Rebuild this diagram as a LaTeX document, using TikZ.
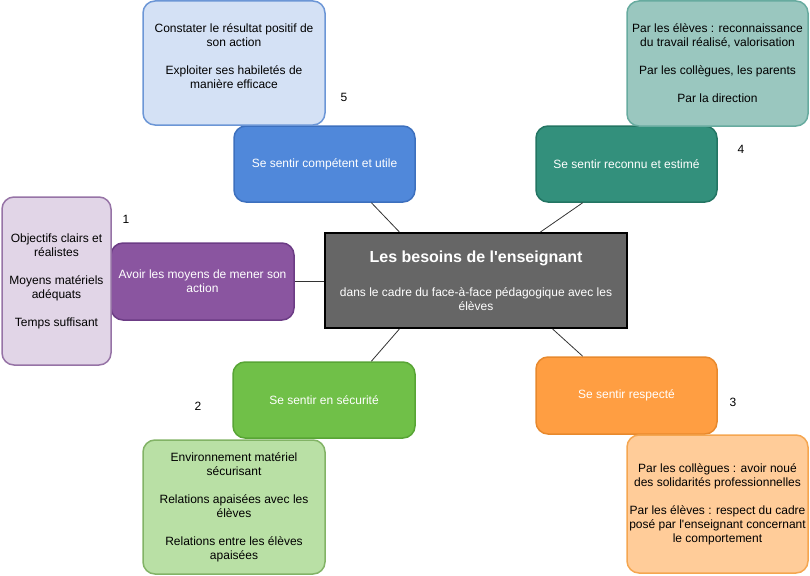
\documentclass[tikz,border=0pt]{standalone}
\usepackage{fontspec}
\setmainfont{Liberation Sans}[Ligatures=TeXOff]
\usetikzlibrary{calc}
\definecolor{bluefill}{HTML}{D4E1F5}
\definecolor{bluedraw}{HTML}{6C96D6}
\definecolor{bluemain}{HTML}{5088DA}
\definecolor{bluemaind}{HTML}{3D70BE}
\definecolor{tealfill}{HTML}{9AC7BF}
\definecolor{tealdraw}{HTML}{67AB9F}
\definecolor{tealmain}{HTML}{33907C}
\definecolor{tealmaind}{HTML}{237563}
\definecolor{purpfill}{HTML}{E1D5E7}
\definecolor{purpdraw}{HTML}{9673A6}
\definecolor{purpmain}{HTML}{8A55A0}
\definecolor{purpmaind}{HTML}{6C3C85}
\definecolor{greenfill}{HTML}{B9E0A5}
\definecolor{greendraw}{HTML}{82B366}
\definecolor{greenmain}{HTML}{70C048}
\definecolor{greenmaind}{HTML}{58A535}
\definecolor{orgfill}{HTML}{FFCC99}
\definecolor{orgdraw}{HTML}{F5A650}
\definecolor{orgmain}{HTML}{FF9E42}
\definecolor{orgmaind}{HTML}{E8892D}
\definecolor{centerfill}{HTML}{666666}
\definecolor{linkcol}{HTML}{333333}
\begin{document}
\begin{tikzpicture}[x=1pt,y=-1pt,
  box/.style={draw, rounded corners=12pt, line width=1.5pt, align=center, inner sep=0pt,
    font=\fontsize{12}{14}\selectfont},
  mainbox/.style={box, text=white, minimum width=181pt, minimum height=76pt},
  detailbox/.style={box, text=black},
  num/.style={inner sep=0pt, font=\fontsize{12}{14}\selectfont},
  link/.style={draw=linkcol, line width=0.8pt}]
\useasboundingbox (0,0) rectangle (810,575);

% central node
\node[draw=black, line width=2pt, fill=centerfill, text=white, align=center, inner sep=0pt,
  minimum width=302pt, minimum height=95pt, font=\fontsize{12}{14}\selectfont]
  (center) at (476,280.5)
  {{\fontsize{16}{19}\selectfont\bfseries Les besoins de l'enseignant}\\[20pt]
   dans le cadre du face-à-face pédagogique avec les\\ élèves};

% main boxes
\node[mainbox, fill=bluemain, draw=bluemaind] (comp) at (324.5,164) {Se sentir compétent et utile};
\node[mainbox, fill=tealmain, draw=tealmaind] (reco) at (626.5,164) {Se sentir reconnu et estimé};
\node[mainbox, fill=purpmain, draw=purpmaind, minimum width=183pt, minimum height=77pt] (moy) at (202.5,281.5)
  {Avoir les moyens de mener son\\ action};
\node[mainbox, fill=greenmain, draw=greenmaind, minimum width=182pt] (secu) at (324,400) {Se sentir en sécurité};
\node[mainbox, fill=orgmain, draw=orgmaind, minimum height=77pt] (resp) at (626.5,395.5) {Se sentir respecté};

% detail boxes
\node[detailbox, fill=bluefill, draw=bluedraw, minimum width=182pt, minimum height=124pt] (d5) at (234,63)
  {Constater le résultat positif de\\ son action\\[14pt] Exploiter ses habiletés de\\ manière efficace\\ \mbox{}};
\node[detailbox, fill=tealfill, draw=tealdraw, minimum width=181pt, minimum height=125pt] (d4) at (717.5,63.5)
  {Par les élèves : reconnaissance\\ du travail réalisé, valorisation\\[14pt] Par les collègues, les parents\\[14pt] Par la direction};
\node[detailbox, fill=purpfill, draw=purpdraw, minimum width=109pt, minimum height=168pt] (d1) at (56.5,281)
  {Objectifs clairs et\\ réalistes\\[14pt] Moyens matériels\\ adéquats\\[14pt] Temps suffisant};
\node[detailbox, fill=greenfill, draw=greendraw, minimum width=182pt, minimum height=134pt] (d2) at (234,507)
  {Environnement matériel\\ sécurisant\\[14pt] Relations apaisées avec les\\ élèves\\[14pt] Relations entre les élèves\\ apaisées};
\node[detailbox, fill=orgfill, draw=orgdraw, minimum width=181pt, minimum height=138pt] (d3) at (717.5,504)
  {Par les collègues : avoir noué\\ des solidarités professionnelles\\[14pt] Par les élèves : respect du cadre\\ posé par l'enseignant concernant\\ le comportement};

% numbers
\node[num] (n5) at (344,97) {5};
\node[num] (n4) at (741,149) {4};
\node[num] (n1) at (126,219) {1};
\node[num] (n2) at (198,406) {2};
\node[num] (n3) at (733,402) {3};

% connectors
\draw[link] ($(center.north west)!0.248!(center.north east)$) -- ($(comp.south west)!0.757!(comp.south east)$);
\draw[link] ($(center.north west)!0.712!(center.north east)$) -- ($(reco.south west)!0.26!(reco.south east)$);
\draw[link] (moy.east) -- (center.west |- moy.east);
\draw[link] ($(center.south west)!0.248!(center.south east)$) -- ($(secu.north west)!0.758!(secu.north east)$);
\draw[link] ($(center.south west)!0.752!(center.south east)$) -- ($(resp.north west)!0.26!(resp.north east)$);
\end{tikzpicture}
\end{document}
